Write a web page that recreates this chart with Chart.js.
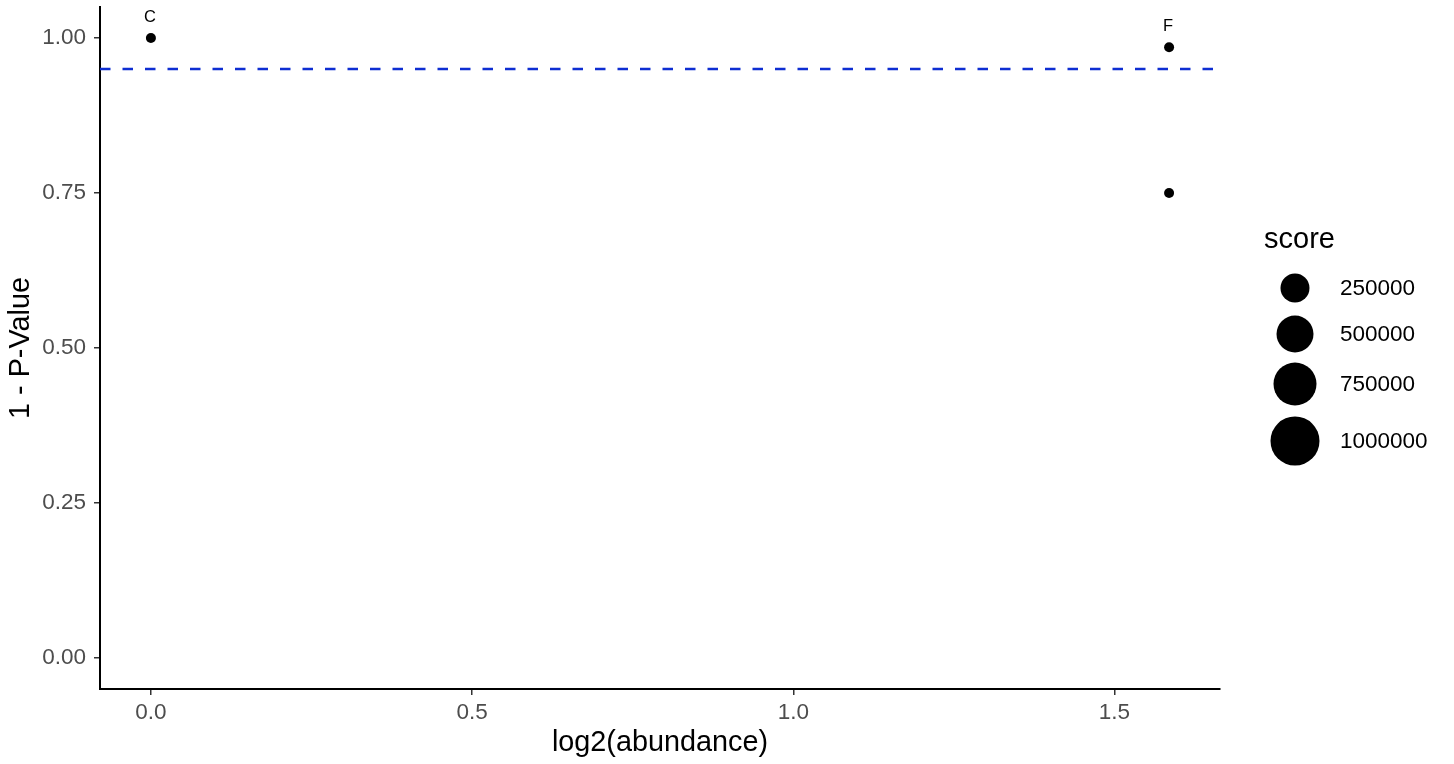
<!DOCTYPE html>
<html><head><meta charset="utf-8">
<script src="https://cdn.jsdelivr.net/npm/chart.js@4"></script>
<style>html,body{margin:0;padding:0;background:#fff}#wrap{width:1454px;height:764px;position:relative}</style>
</head><body><div id="wrap"><canvas id="c" width="1454" height="764"></canvas></div>
<script>
// ---- data ----
const pointLabels = ["C", "F", ""];
const abundanceLog2 = [0, 1.585, 1.585];
const oneMinusP = [1.0, 0.985, 0.75];
const threshold = 0.95;
const xTicks = [0, 0.5, 1.0, 1.5];
const xTickLabels = ["0.0", "0.5", "1.0", "1.5"];
const yTicks = [0, 0.25, 0.5, 0.75, 1.0];
const yTickLabels = ["0.00", "0.25", "0.50", "0.75", "1.00"];
const legendScores = [250000, 500000, 750000, 1000000];
const legendTitle = "score";

// ranges (ggplot 5% expansion)
const xMinData = Math.min(...abundanceLog2), xMaxData = Math.max(...abundanceLog2);
const xPad = (xMaxData - xMinData) * 0.05;
const yMinData = 0, yMaxData = 1;
const yPad = (yMaxData - yMinData) * 0.05;
const X_MIN = xMinData - xPad, X_MAX = xMaxData + xPad;

const legendRadii = [14.5, 18.5, 21.5, 24.5];
const FONT = "'Liberation Sans', Arial, sans-serif";

const labelPlugin = {
  id: 'pointText',
  afterDatasetsDraw(chart) {
    const ctx = chart.ctx;
    const meta = chart.getDatasetMeta(1);
    ctx.save();
    ctx.fillStyle = '#000';
    ctx.font = "16.5px " + FONT;
    ctx.textAlign = 'center';
    ctx.textBaseline = 'middle';
    meta.data.forEach((el, i) => {
      if (pointLabels[i]) ctx.fillText(pointLabels[i], el.x - 1, el.y - 21);
    });
    ctx.restore();
  }
};

const legendPlugin = {
  id: 'sizeLegend',
  afterDraw(chart) {
    const ctx = chart.ctx;
    ctx.save();
    ctx.fillStyle = '#000';
    ctx.font = "29px " + FONT;
    ctx.textBaseline = 'middle';
    ctx.textAlign = 'left';
    ctx.fillText(legendTitle, 1264, 240);
    const ys = [288, 334, 384, 441];
    ctx.font = "22.5px " + FONT;
    legendScores.forEach((s, i) => {
      ctx.beginPath();
      ctx.arc(1295, ys[i], legendRadii[i], 0, Math.PI * 2);
      ctx.fill();
      ctx.fillText(String(s), 1340, ys[i] + 1);
    });
    ctx.restore();
  }
};

new Chart(document.getElementById('c'), {
  type: 'scatter',
  data: {
    datasets: [
      {
        type: 'line',
        data: [{x: X_MIN, y: threshold}, {x: X_MAX, y: threshold}],
        borderColor: '#0e2ed2',
        borderWidth: 2.6,
        borderDash: [10.5, 12],
        pointRadius: 0,
        fill: false
      },
      {
        data: abundanceLog2.map((x, i) => ({x, y: oneMinusP[i]})),
        backgroundColor: '#000',
        borderColor: '#000',
        borderWidth: 0,
        pointRadius: 5,
        pointHoverRadius: 5
      }
    ]
  },
  plugins: [labelPlugin, legendPlugin],
  options: {
    responsive: false,
    animation: false,
    events: [],
    layout: {padding: {top: 7, right: 234, left: 0, bottom: 0}},
    plugins: {legend: {display: false}, tooltip: {enabled: false}},
    scales: {
      x: {
        type: 'linear',
        min: X_MIN, max: X_MAX,
        afterBuildTicks: s => { s.ticks = xTicks.map(v => ({value: v})); },
        afterFit: s => { s.height = 75; s.paddingLeft = 0; s.paddingRight = 0; },
        ticks: {
          callback: (v) => xTickLabels[xTicks.indexOf(v)] ?? '',
          color: '#4d4d4d',
          font: {family: FONT, size: 22.5},
          padding: 4,
          maxRotation: 0, autoSkip: false
        },
        grid: {display: true, drawOnChartArea: false, drawTicks: true, tickLength: 6, color: '#333', lineWidth: 1.5},
        border: {display: true, color: '#000', width: 2},
        title: {display: true, text: 'log2(abundance)', color: '#000', font: {family: FONT, size: 28.8}, padding: {top: 0, bottom: 4}}
      },
      y: {
        type: 'linear',
        min: yMinData - yPad, max: yMaxData + yPad,
        afterBuildTicks: s => { s.ticks = yTicks.map(v => ({value: v})); },
        afterFit: s => { s.width = 100; s.paddingTop = 0; s.paddingBottom = 0; },
        ticks: {
          callback: (v) => yTickLabels[yTicks.indexOf(v)] ?? '',
          color: '#4d4d4d',
          font: {family: FONT, size: 22.5},
          padding: 8,
          autoSkip: false
        },
        grid: {display: true, drawOnChartArea: false, drawTicks: true, tickLength: 6, color: '#333', lineWidth: 1.5},
        border: {display: true, color: '#000', width: 2},
        title: {display: true, text: '1 - P-Value', color: '#000', font: {family: FONT, size: 28.8}, padding: {top: 4, bottom: 0}}
      }
    }
  }
});
</script>
</body></html>
